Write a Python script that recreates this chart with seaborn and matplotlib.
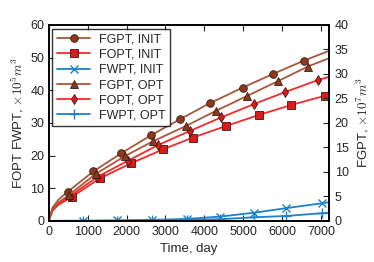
"""Cumulative gas / oil / water production, initial vs optimised schedule."""

import matplotlib
matplotlib.use("Agg")
import matplotlib.pyplot as plt
import pandas as pd
import seaborn as sns

# --- data ------------------------------------------------------------------
# FGPT on right axis (x1e7 m3); FOPT, FWPT on left axis (x1e5 m3)
fgpt_init_t = [0, 100, 250, 493, 1150, 1864, 2635, 3363, 4134, 4982, 5763, 6551, 7200]
fgpt_init_v = [0, 2.7, 4.3, 5.97, 10.1, 13.8, 17.5, 20.7, 24.0, 27.2, 30.0, 32.7, 34.7]

fgpt_opt_t = [0, 100, 250, 520, 1204, 1966, 2668, 3535, 4306, 5095, 5882, 6653, 7200]
fgpt_opt_v = [0, 2.4, 3.7, 5.3, 9.55, 13.25, 16.2, 19.4, 22.5, 25.5, 28.5, 31.5, 33.2]

fopt_init_t = [0, 100, 250, 604, 1316, 2113, 2935, 3706, 4563, 5393, 6234, 7090, 7200]
fopt_init_v = [0, 3.1, 4.9, 7.4, 13.05, 17.6, 21.9, 25.5, 29.1, 32.4, 35.5, 38.3, 38.6]

fopt_opt_t = [0, 100, 250, 553, 1254, 2035, 2807, 3620, 4434, 5283, 6062, 6910, 7200]
fopt_opt_v = [0, 3.3, 5.2, 7.6, 13.5, 18.4, 23.2, 27.5, 31.7, 35.8, 39.4, 43.1, 44.1]

fwpt_init_t = [0, 895, 1750, 2650, 3550, 4390, 5280, 6100, 7020, 7200]
fwpt_init_v = [0, 0.05, 0.15, 0.3, 0.6, 1.3, 2.5, 3.9, 5.4, 5.7]

fwpt_opt_t = [0, 895, 1750, 2650, 3550, 4390, 5280, 6100, 7020, 7200]
fwpt_opt_v = [0, 0.0, 0.05, 0.15, 0.3, 0.5, 1.1, 1.5, 2.35, 2.5]

BROWN_LINE = "#a8573a"
BROWN_FILL = "#8c3a1c"
RED_LINE = "#f42a2a"
RED_FILL = "#e0181c"
BLUE = "#1c82cc"

sns.set_style("ticks")
plt.rcParams["font.family"] = ["Liberation Sans", "DejaVu Sans"]
plt.rcParams["mathtext.fontset"] = "cm"
plt.rcParams["xtick.direction"] = "in"
plt.rcParams["ytick.direction"] = "in"

fig = plt.figure(figsize=(3.74, 2.62), dpi=100)
ax = fig.add_axes([0.13, 0.157, 0.75, 0.748])
ax2 = ax.twinx()


def draw(axis, t, v, color, marker, mfc, label, every, ms=5.5):
    df = pd.DataFrame({"t": t, "v": v})
    sns.lineplot(data=df, x="t", y="v", ax=axis, color=color, lw=1.3,
                 marker=marker, markevery=every, markersize=ms,
                 markerfacecolor=mfc, markeredgecolor="#3a1a10" if mfc != BLUE else BLUE,
                 markeredgewidth=0.6 if mfc != BLUE else 1.0,
                 sort=False, errorbar=None, label=label)


mid = list(range(3, 12))
draw(ax2, fgpt_init_t, fgpt_init_v, BROWN_LINE, "o", BROWN_FILL, "FGPT, INIT", mid)
draw(ax, fopt_init_t, fopt_init_v, RED_LINE, "s", RED_FILL, "FOPT, INIT", mid)
draw(ax, fwpt_init_t, fwpt_init_v, BLUE, "x", BLUE, "FWPT, INIT", list(range(1, 9)))
draw(ax2, fgpt_opt_t, fgpt_opt_v, BROWN_LINE, "^", BROWN_FILL, "FGPT, OPT", mid)
draw(ax, fopt_opt_t, fopt_opt_v, RED_LINE, "d", RED_FILL, "FOPT, OPT", mid)
draw(ax, fwpt_opt_t, fwpt_opt_v, BLUE, "+", BLUE, "FWPT, OPT", list(range(1, 9)), ms=7)

order = ["FGPT, INIT", "FOPT, INIT", "FWPT, INIT", "FGPT, OPT", "FOPT, OPT", "FWPT, OPT"]
lines = {l.get_label(): l for l in ax.get_lines() + ax2.get_lines()}
for a in (ax, ax2):
    if a.get_legend() is not None:
        a.get_legend().remove()
leg = ax2.legend([lines[k] for k in order], order, loc="upper left",
                 fontsize=9, frameon=True, fancybox=False, edgecolor="black",
                 handlelength=2.6, handletextpad=0.7, borderpad=0.4,
                 labelspacing=0.25, borderaxespad=0.3, numpoints=1)
leg.get_frame().set_linewidth(1.0)

ax.set_xlim(0, 7200)
ax.set_ylim(0, 60)
ax2.set_ylim(0, 40)
ax.set_xticks(range(0, 8000, 1000))
ax.set_yticks(range(0, 70, 10))
ax2.set_yticks(range(0, 45, 5))

ax.set_xlabel("Time, day", fontsize=9.5, labelpad=3)
ax.set_ylabel(r"FOPT FWPT, $\times 10^5 m^3$", fontsize=9.5, labelpad=3)
ax2.set_ylabel(r"FGPT, $\times 10^7 m^3$", fontsize=9.5, labelpad=4)

ax.tick_params(axis="x", top=True, labelsize=9, length=4, width=0.8, pad=4)
ax.tick_params(axis="y", labelsize=9, length=4, width=0.8, pad=3)
ax2.tick_params(axis="y", labelsize=9, length=4, width=0.8, pad=4)
for a in (ax, ax2):
    for s in a.spines.values():
        s.set_linewidth(1.2)
        s.set_color("black")

fig.savefig("out.png", dpi=100)
